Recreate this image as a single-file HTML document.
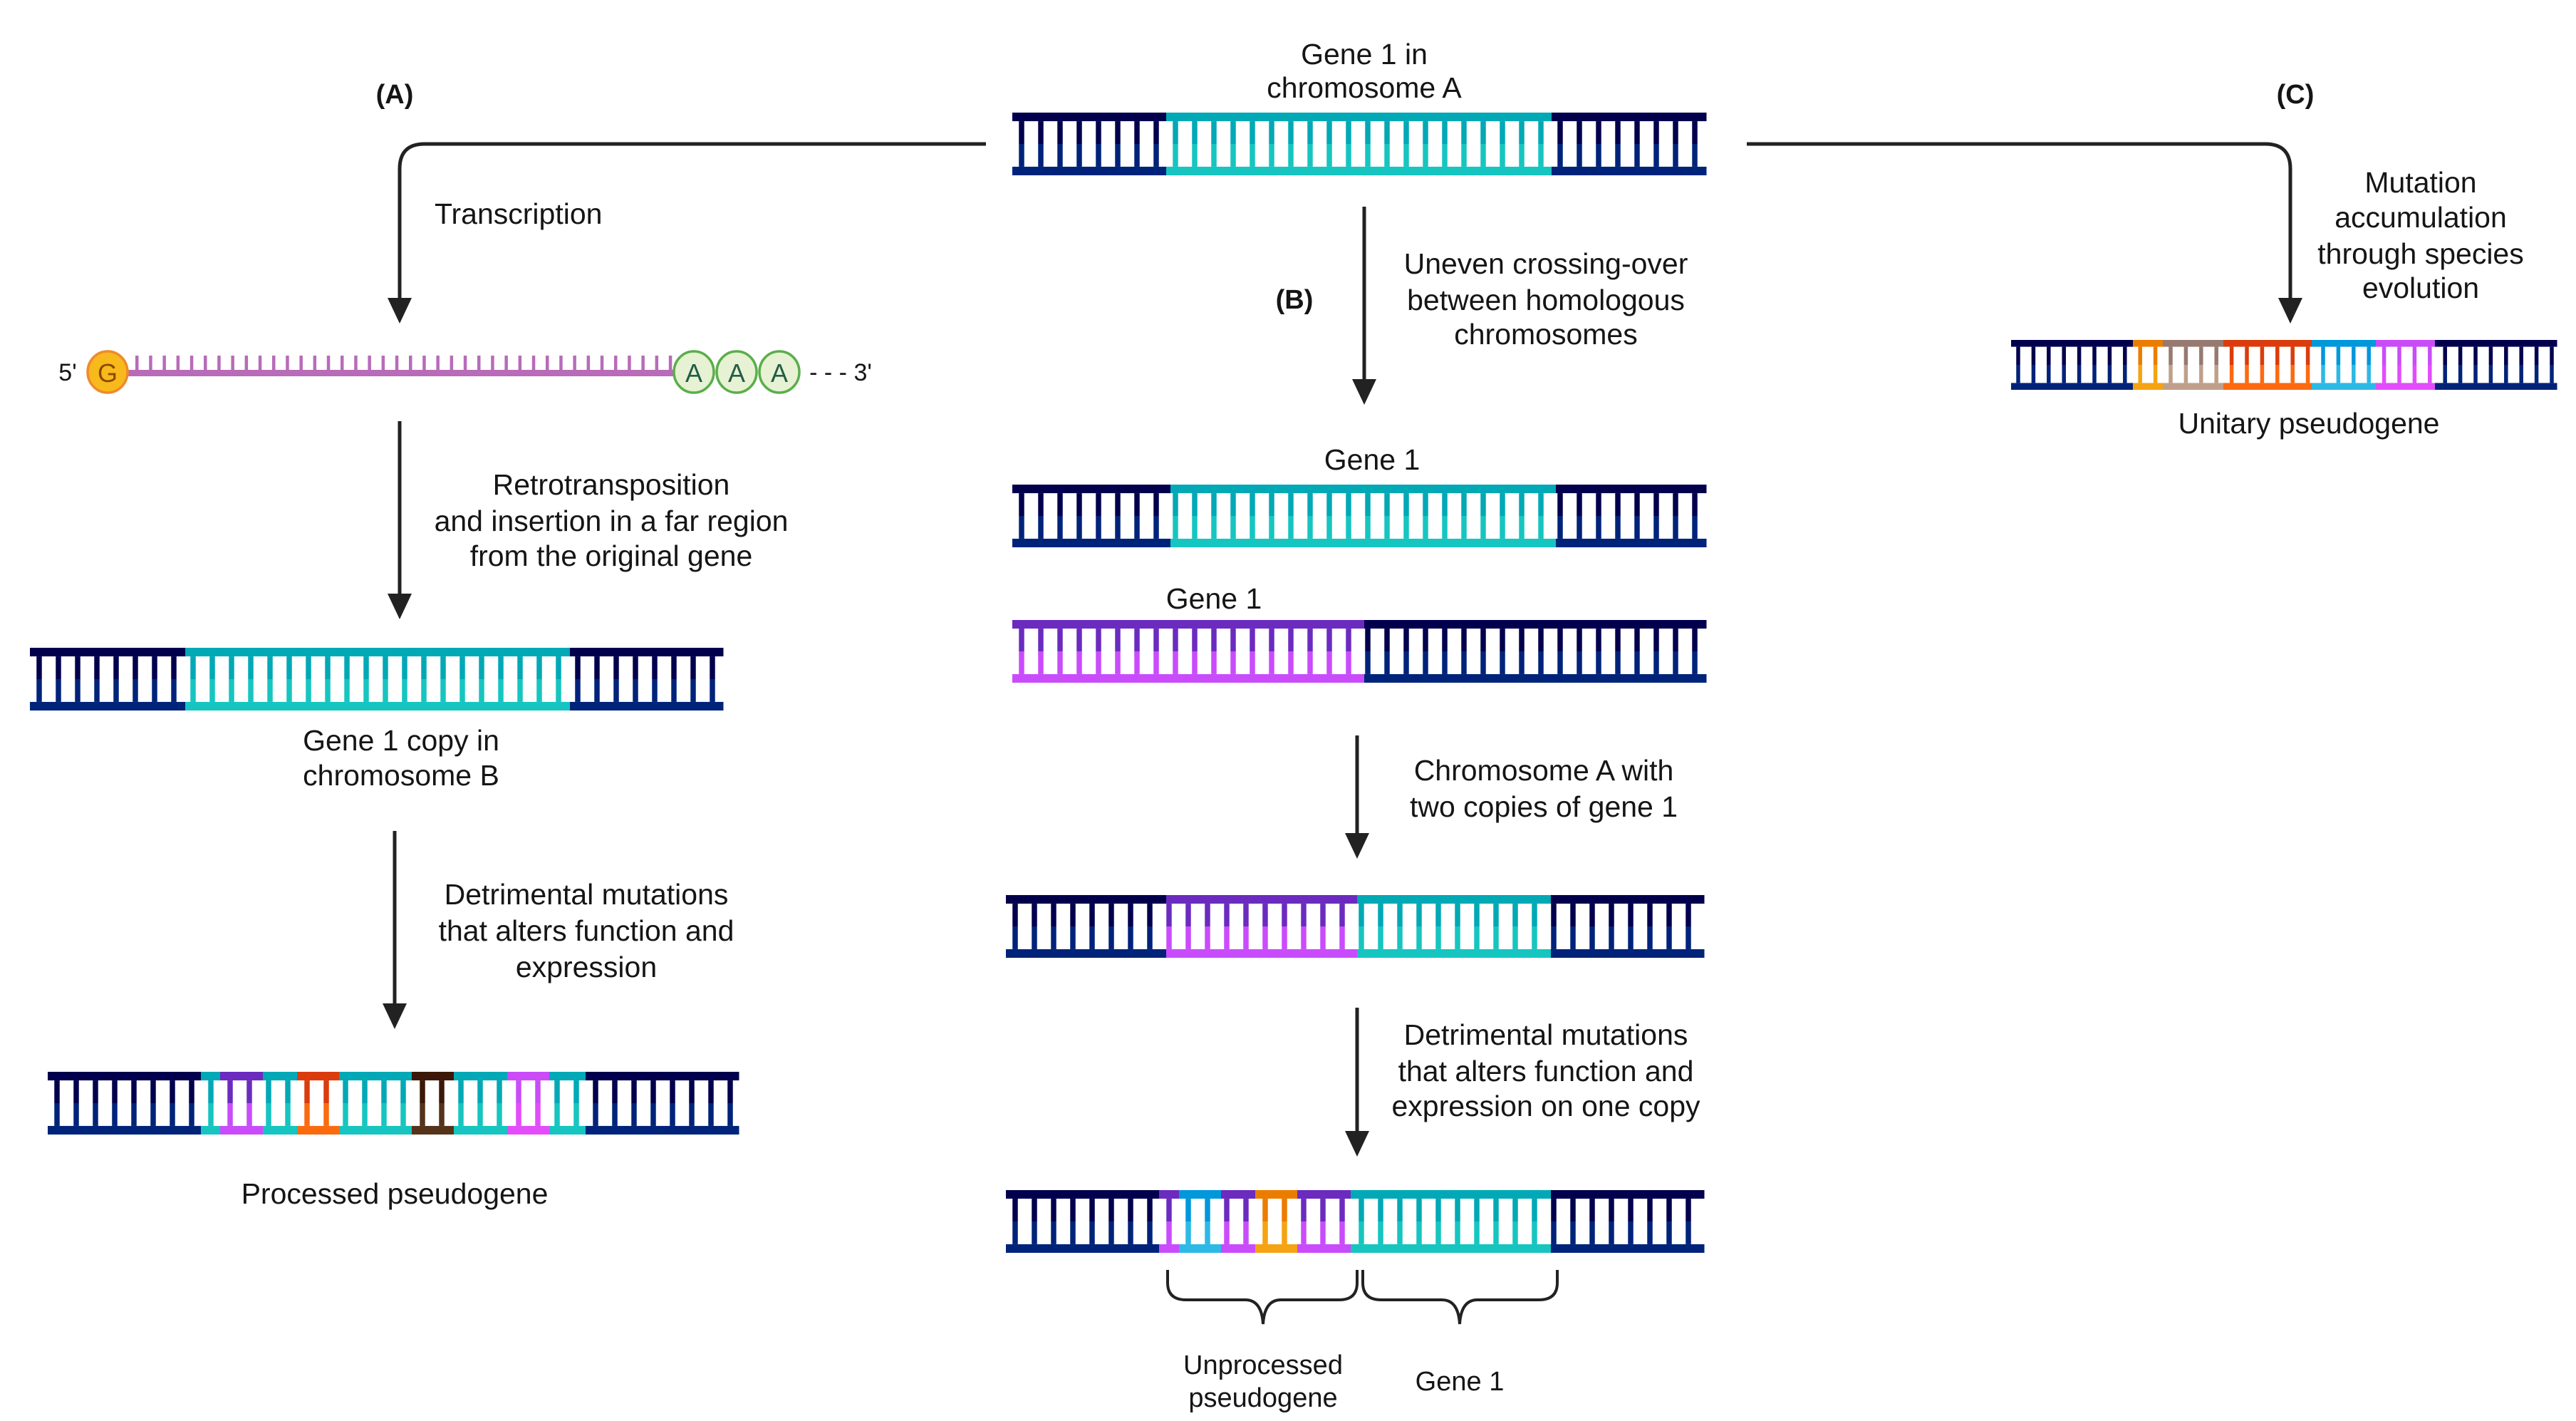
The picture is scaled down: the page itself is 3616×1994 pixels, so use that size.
<!DOCTYPE html>
<html><head><meta charset="utf-8"><style>
html,body{margin:0;padding:0;background:#fff;}
svg{display:block;}
text{font-family:"Liberation Sans",sans-serif;fill:#151515;}
</style></head><body>
<svg id="s" width="3616" height="1994" viewBox="0 0 3616 1994" xmlns="http://www.w3.org/2000/svg">
<g id="dna"></g>
<g stroke="#222" stroke-width="5" fill="none">
<path d="M1384 202 H596 Q561 202 561 237 V420"/>
<path d="M2452 202 H3180 Q3215 202 3215 237 V420"/>
<path d="M561 591 V835"/>
<path d="M554 1166 V1410"/>
<path d="M1915 290 V534"/>
<path d="M1905 1032 V1171"/>
<path d="M1905 1414 V1589"/>
</g>
<g fill="#222">
<polygon points="544,418 578,418 561,454"/>
<polygon points="3198,418 3232,418 3215,454"/>
<polygon points="544,833 578,833 561,869"/>
<polygon points="537,1408 571,1408 554,1444"/>
<polygon points="1898,532 1932,532 1915,568"/>
<polygon points="1888,1169 1922,1169 1905,1205"/>
<polygon points="1888,1587 1922,1587 1905,1623"/>
</g>
<g stroke="#222" stroke-width="4" fill="none">
<path d="M1639 1782 V1800 Q1639 1824 1665 1824 H1748 Q1771 1824 1773 1858 Q1775 1824 1798 1824 H1880 Q1905 1824 1905 1800 V1782"/>
<path d="M1913 1782 V1800 Q1913 1824 1939 1824 H2024 Q2047 1824 2049 1858 Q2051 1824 2074 1824 H2160 Q2186 1824 2186 1800 V1782"/>
</g>
<g id="rna"></g>
<g font-size="41" text-anchor="middle">
<text x="1915" y="90">Gene 1 in</text>
<text x="1915" y="137">chromosome A</text>
<text x="610" y="314" text-anchor="start">Transcription</text>
<text x="858" y="694">Retrotransposition</text>
<text x="858" y="745">and insertion in a far region</text>
<text x="858" y="794">from the original gene</text>
<text x="563" y="1053">Gene 1 copy in</text>
<text x="563" y="1102">chromosome B</text>
<text x="823" y="1269">Detrimental mutations</text>
<text x="823" y="1320">that alters function and</text>
<text x="823" y="1371">expression</text>
<text x="554" y="1689">Processed pseudogene</text>
<text x="2170" y="384">Uneven crossing-over</text>
<text x="2170" y="435">between homologous</text>
<text x="2170" y="483">chromosomes</text>
<text x="1926" y="659">Gene 1</text>
<text x="1704" y="854">Gene 1</text>
<text x="2167" y="1095">Chromosome A with</text>
<text x="2167" y="1146">two copies of gene 1</text>
<text x="2170" y="1466">Detrimental mutations</text>
<text x="2170" y="1517">that alters function and</text>
<text x="2170" y="1566">expression on one copy</text>
<text x="3398" y="270">Mutation</text>
<text x="3398" y="319">accumulation</text>
<text x="3398" y="370">through species</text>
<text x="3398" y="418">evolution</text>
<text x="3241" y="608">Unitary pseudogene</text>
<text x="1773" y="1928" font-size="38">Unprocessed</text>
<text x="1773" y="1974" font-size="38">pseudogene</text>
<text x="2049" y="1951" font-size="38">Gene 1</text>
<text x="554" y="145" font-weight="bold" font-size="38">(A)</text>
<text x="1817" y="433" font-weight="bold" font-size="38">(B)</text>
<text x="3222" y="145" font-weight="bold" font-size="38">(C)</text>
<text x="95" y="534" font-size="34">5'</text>
<text x="1180" y="534" font-size="34">- - - 3'</text>
</g>
</svg>
<script>
var NS="http://www.w3.org/2000/svg";
var D=["#02004d","#00237a"],T=["#00a9b5","#16c5c0"],P=["#6b2bbf","#c94cfc"],
B=["#0097db","#2db9e6"],O=["#ec7c00","#f5a312"],R=["#da3c0d","#fc6a10"],
N=["#3c1808","#55331a"],M=["#c94cf8","#e24cfb"],TN=["#967a70","#c09f8a"];
var g=document.getElementById("dna");
function r(x,y,w,h,c,p){var e=document.createElementNS(NS,"rect");e.setAttribute("x",x);e.setAttribute("y",y);e.setAttribute("width",w);e.setAttribute("height",h);e.setAttribute("fill",c);(p||g).appendChild(e);}
function dna(x0,x1,y,h,segs,pitch,rw,off){
  var bar=h*0.137;
  segs.forEach(function(s){r(s[0],y,s[1]-s[0]+0.5,bar,s[2][0]);r(s[0],y+h-bar,s[1]-s[0]+0.5,bar,s[2][1]);});
  for(var cx=x0+off;cx<x1-2;cx+=pitch){
    var c=segs[0][2];segs.forEach(function(s){if(cx>=s[0]&&cx<s[1])c=s[2];});
    r(cx-rw/2,y+bar,rw,h/2-bar,c[0]);r(cx-rw/2,y+h/2,rw,h/2-bar,c[1]);
  }
}
function S(a){var o=[];for(var i=0;i<a.length-1;i+=2){o.push([a[i],a[i+2]!==undefined?a[i+2]:a[i],a[i+1]]);}return o;}
function segs(){var a=arguments,o=[];for(var i=0;i+2<a.length;i+=2)o.push([a[i],a[i+2],a[i+1]]);return o;}
dna(1421,2395,158,88,segs(1421,D,1637,T,2178,D,2395),27,7.5,13);
dna(42,1015,909,88,segs(42,D,260,T,800,D,1015),27,7.5,13);
dna(67,1037,1504,88,segs(67,D,282,T,309,P,369,T,417,R,476,T,578,N,637,T,712,M,771,T,822,D,1037),27,7.5,13);
dna(1421,2395,680,88,segs(1421,D,1643,T,2184,D,2395),27,7.5,13);
dna(1421,2395,870,88,segs(1421,P,1915,D,2395),27,7.5,13);
dna(1412,2392,1256,88,segs(1412,D,1637,P,1905,T,2177,D,2392),27,7.5,13);
dna(1412,2392,1670,88,segs(1412,D,1627,P,1655,B,1714,P,1762,O,1821,P,1896,T,2177,D,2392),27,7.5,13);
dna(2823,3589,477,70,segs(2823,D,2994,O,3036,TN,3121,R,3245,B,3335,M,3418,D,3589),21.4,5.5,10);
// mRNA
var rg=document.getElementById("rna");
r(180,519,770,9,"#b86bb8",rg);
for(var x=190;x<945;x+=19.2){r(x,499,4.5,22,"#b86bb8",rg);}
function ell(cx,fill,stroke,t,tc){var e=document.createElementNS(NS,"ellipse");e.setAttribute("cx",cx);e.setAttribute("cy",522);e.setAttribute("rx",28);e.setAttribute("ry",29);e.setAttribute("fill",fill);e.setAttribute("stroke",stroke);e.setAttribute("stroke-width",3.5);rg.appendChild(e);
var tx=document.createElementNS(NS,"text");tx.setAttribute("x",cx);tx.setAttribute("y",536);tx.setAttribute("font-size",36);tx.setAttribute("text-anchor","middle");tx.setAttribute("style","fill:"+tc);tx.textContent=t;rg.appendChild(tx);}
ell(151,"#f8b91c","#ef8a2a","G","#8a4a00");
ell(974,"#e6f2d3","#5aae4a","A","#235c46");
ell(1034,"#e6f2d3","#5aae4a","A","#235c46");
ell(1094,"#e6f2d3","#5aae4a","A","#235c46");
</script>
</body></html>
